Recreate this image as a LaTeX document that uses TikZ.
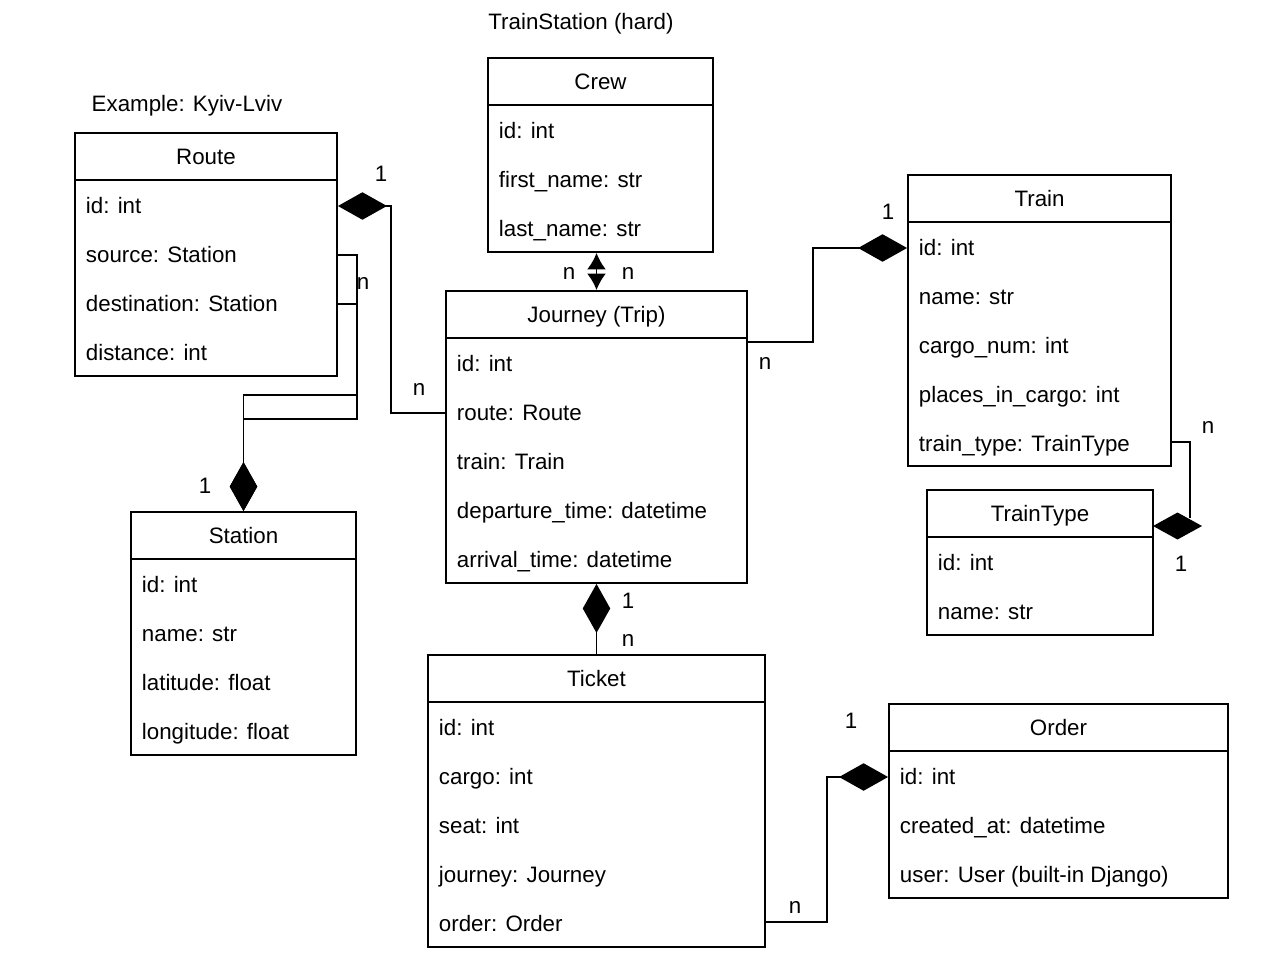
\documentclass[tikz,border=0pt]{standalone}
\usepackage{fontspec}
\setmainfont{Liberation Sans}
\usetikzlibrary{arrows.meta}

\begin{document}
\begin{tikzpicture}[x=0.02cm,y=-0.02cm,line width=1.1pt,line join=miter,
    every node/.style={font=\fontsize{12.7}{15}\selectfont,text height=11.4pt,text depth=2.6pt},
    cls/.style={draw,fill=white,inner sep=0pt,text height=,text depth=},
    row/.style={anchor=west,inner sep=0pt},
    comp/.style={-{Diamond[length=0.98cm 0,width=0.55cm 0]}},
    both/.style={{Latex[length=0.33cm 0,width=0.38cm 0]}-{Latex[length=0.33cm 0,width=0.38cm 0]}}]
  \useasboundingbox (0,0) rectangle (1270,966);

  %--- Titles -------------------------------------------------------------
  \node (title) at (581,22) {TrainStation (hard)};
  \node (example) at (187,104) {Example: Kyiv-Lviv};

  %--- Route --------------------------------------------------------------
  \node[cls,minimum width=5.24cm,minimum height=4.86cm] (route) at (206,254.5) {};
  \draw (route.north west) ++(0,48) -- ++(262,0);
  \node (route-name) at (206,157) {Route};
  \node[row] (route-id)   at (85,206) {id: int};
  \node[row] (route-src)  at (85,255) {source: Station};
  \node[row] (route-dst)  at (85,304) {destination: Station};
  \node[row] (route-dist) at (85,353) {distance: int};

  %--- Station ------------------------------------------------------------
  \node[cls,minimum width=4.5cm,minimum height=4.86cm] (station) at (243.5,633.5) {};
  \draw (station.north west) ++(0,48) -- ++(225,0);
  \node (station-name) at (243.5,536) {Station};
  \node[row] (station-id)  at (141,585) {id: int};
  \node[row] (station-nm)  at (141,634) {name: str};
  \node[row] (station-lat) at (141,683) {latitude: float};
  \node[row] (station-lon) at (141,732) {longitude: float};

  %--- Crew ---------------------------------------------------------------
  \node[cls,minimum width=4.5cm,minimum height=3.88cm] (crew) at (600.5,155) {};
  \draw (crew.north west) ++(0,48) -- ++(225,0);
  \node (crew-name) at (600.5,82) {Crew};
  \node[row] (crew-id)    at (498,131) {id: int};
  \node[row] (crew-first) at (498,180) {first\_name: str};
  \node[row] (crew-last)  at (498,229) {last\_name: str};

  %--- Journey ------------------------------------------------------------
  \node[cls,minimum width=6.02cm,minimum height=5.84cm] (journey) at (596.5,437) {};
  \draw (journey.north west) ++(0,48) -- ++(301,0);
  \node (journey-name) at (596.5,315) {Journey (Trip)};
  \node[row] (journey-id)    at (456,364) {id: int};
  \node[row] (journey-route) at (456,413) {route: Route};
  \node[row] (journey-train) at (456,462) {train: Train};
  \node[row] (journey-dep)   at (456,511) {departure\_time: datetime};
  \node[row] (journey-arr)   at (456,560) {arrival\_time: datetime};

  %--- Train --------------------------------------------------------------
  \node[cls,minimum width=5.26cm,minimum height=5.82cm] (train) at (1039.5,320.5) {};
  \draw (train.north west) ++(0,48) -- ++(263,0);
  \node (train-name) at (1039.5,199) {Train};
  \node[row] (train-id)     at (918,248) {id: int};
  \node[row] (train-nm)     at (918,297) {name: str};
  \node[row] (train-cargo)  at (918,346) {cargo\_num: int};
  \node[row] (train-places) at (918,395) {places\_in\_cargo: int};
  \node[row] (train-type)   at (918,444) {train\_type: TrainType};

  %--- TrainType ----------------------------------------------------------
  \node[cls,minimum width=4.52cm,minimum height=2.9cm] (traintype) at (1040,562.5) {};
  \draw (traintype.north west) ++(0,48) -- ++(226,0);
  \node (traintype-name) at (1040,514) {TrainType};
  \node[row] (traintype-id) at (937,563) {id: int};
  \node[row] (traintype-nm) at (937,612) {name: str};

  %--- Ticket -------------------------------------------------------------
  \node[cls,minimum width=6.74cm,minimum height=5.84cm] (ticket) at (596.5,801) {};
  \draw (ticket.north west) ++(0,48) -- ++(337,0);
  \node (ticket-name) at (596.5,679) {Ticket};
  \node[row] (ticket-id)      at (438,728) {id: int};
  \node[row] (ticket-cargo)   at (438,777) {cargo: int};
  \node[row] (ticket-seat)    at (438,826) {seat: int};
  \node[row] (ticket-journey) at (438,875) {journey: Journey};
  \node[row] (ticket-order)   at (438,924) {order: Order};

  %--- Order --------------------------------------------------------------
  \node[cls,minimum width=6.78cm,minimum height=3.88cm] (order) at (1058.5,801) {};
  \draw (order.north west) ++(0,48) -- ++(339,0);
  \node (order-name) at (1058.5,728) {Order};
  \node[row] (order-id)   at (899,777) {id: int};
  \node[row] (order-date) at (899,826) {created\_at: datetime};
  \node[row] (order-user) at (899,875) {user: User (built-in Django)};

  %--- Connectors ---------------------------------------------------------
  % Route -> Station (source and destination)
  \coordinate (rs-top) at (243.5,395);
  \coordinate (rs-bot) at (243.5,419);
  \draw[comp] (route-src -| route.east) -- ++(19,0) |- (rs-top) -- (station.north);
  \draw[comp] (route-dst -| route.east) -- ++(19,0) |- (rs-bot) -- (station.north);

  % Journey -> Route
  \draw[comp] (journey.west |- journey-route) -- ++(-54,0) |- (route-id -| route.east);

  % Crew <-> Journey
  \draw[both] (journey.north |- crew.south) -- (journey.north);

  % Journey -> Train
  \coordinate (jt) at (747,342);
  \draw[comp] (jt) -- ++(66,0) |- (train-id -| train.west);

  % Train -> TrainType
  \coordinate (tt-end) at (1190,518);
  \draw (train.east |- 0,442) -| (tt-end);
  \fill (1153,526) -- (1177.5,512.5) -- (1202,526) -- (1177.5,539.5) -- cycle;

  % Ticket -> Journey
  \draw[comp] (ticket.north) -- (journey.south);

  % Ticket -> Order
  \coordinate (to) at (765,922);
  \draw[comp] (to) -- ++(62,0) |- (order-id -| order.west);

  %--- Multiplicities -----------------------------------------------------
  \node (m-route1)  at (381,174) {1};
  \node (m-route2)  at (419,388) {n};
  \node (m-route3)  at (363,282) {n};
  \node (m-station) at (205,486) {1};
  \node (m-crew1)   at (569,272) {n};
  \node (m-crew2)   at (628,272) {n};
  \node (m-train1)  at (888,212) {1};
  \node (m-train2)  at (765,362) {n};
  \node (m-type1)   at (1208,426) {n};
  \node (m-type2)   at (1181,564) {1};
  \node (m-tick1)   at (628,601) {1};
  \node (m-tick2)   at (628,639) {n};
  \node (m-order1)  at (851,721) {1};
  \node (m-order2)  at (795,906) {n};
\end{tikzpicture}
\end{document}
